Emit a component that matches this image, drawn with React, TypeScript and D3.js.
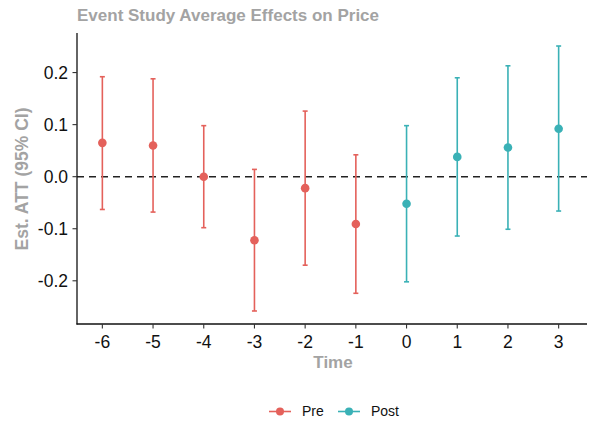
import React from 'react';
import * as d3 from 'd3';

// event-study estimates
const periods = [-6, -5, -4, -3, -2, -1, 0, 1, 2, 3];
const estimates = [0.065, 0.06, 0.0, -0.122, -0.022, -0.091, -0.052, 0.038, 0.056, 0.092];
const upperCI = [0.192, 0.188, 0.098, 0.014, 0.126, 0.042, 0.098, 0.19, 0.213, 0.251];
const lowerCI = [-0.063, -0.068, -0.098, -0.258, -0.17, -0.224, -0.202, -0.114, -0.101, -0.066];
const yTicks = [-0.2, -0.1, 0.0, 0.1, 0.2];
const groups = ['Pre', 'Post'];
const groupColors = ['#E4615B', '#3AB1B6'];

const width = 589;
const height = 427;
const font = "'Liberation Sans', Arial, Helvetica, sans-serif";
const titleGrey = '#a3a3a3';

const App = () => {
    const x = d3.scaleLinear().domain([-6.5, 3.5]).range([77, 584]);
    const y = d3.scaleLinear().domain([-0.283, 0.276]).range([324, 33]);
    const color = d3.scaleOrdinal<string, string>().domain(groups).range(groupColors);

    const rows = periods.map((p, i) => ({
        period: p,
        est: estimates[i],
        hi: upperCI[i],
        lo: lowerCI[i],
        group: p < 0 ? 'Pre' : 'Post',
    }));

    // plain hyphen for negatives, like the original
    const fmt = (v: number) => (Math.abs(v) < 1e-9 ? '0.0' : v.toFixed(1));

    return (
        <svg width={width} height={height} style={{ position: 'absolute', left: 0, top: 0, background: '#fff' }}
            fontFamily={font}>
            {/* title */}
            <text x={77} y={21} fontSize={17} fontWeight="bold" fill={titleGrey}>
                Event Study Average Effects on Price
            </text>

            {/* zero reference line */}
            <line x1={x(-6.5)} x2={587} y1={y(0)} y2={y(0)} stroke="#222" strokeWidth={1.6} strokeDasharray="7,5" />

            {/* error bars and points */}
            {rows.map(d => {
                const c = color(d.group);
                const cx = x(d.period);
                return (
                    <g key={d.period}>
                        <line x1={cx} x2={cx} y1={y(d.hi)} y2={y(d.lo)} stroke={c} strokeWidth={1.6} />
                        <line x1={cx - 2.5} x2={cx + 2.5} y1={y(d.hi)} y2={y(d.hi)} stroke={c} strokeWidth={1.6} />
                        <line x1={cx - 2.5} x2={cx + 2.5} y1={y(d.lo)} y2={y(d.lo)} stroke={c} strokeWidth={1.6} />
                        <circle cx={cx} cy={y(d.est)} r={4.3} fill={c} />
                    </g>
                );
            })}

            {/* y axis */}
            <line x1={77} x2={77} y1={33} y2={324.5} stroke="#111" strokeWidth={1.3} />
            {yTicks.map(t => (
                <g key={t} transform={`translate(0,${y(t)})`}>
                    <line x1={72.5} x2={77} stroke="#333" strokeWidth={1.1} />
                    <text x={68} dy="0.35em" textAnchor="end" fontSize={17.5} fill="#111">{fmt(t)}</text>
                </g>
            ))}

            {/* x axis */}
            <line x1={76.5} x2={587} y1={324} y2={324} stroke="#111" strokeWidth={1.3} />
            {periods.map(p => (
                <g key={p} transform={`translate(${x(p)},0)`}>
                    <line y1={324} y2={328.5} stroke="#333" strokeWidth={1.1} />
                    <text y={348} textAnchor="middle" fontSize={17.5} fill="#111">{String(p)}</text>
                </g>
            ))}

            {/* axis titles */}
            <text x={333} y={368} textAnchor="middle" fontSize={17} fontWeight="bold" fill={titleGrey}>Time</text>
            <text transform="translate(28,179) rotate(-90)" textAnchor="middle" fontSize={17.5} fontWeight="bold"
                fill={titleGrey}>Est. ATT (95% CI)</text>

            {/* legend */}
            {groups.map((g, i) => {
                const lx = i === 0 ? 269 : 338;
                return (
                    <g key={g} transform={`translate(${lx},411.5)`}>
                        <line x1={0} x2={22} stroke={color(g)} strokeWidth={1.6} />
                        <circle cx={11} r={4} fill={color(g)} />
                        <text x={33} dy="0.35em" fontSize={14} fill="#111">{g}</text>
                    </g>
                );
            })}
        </svg>
    );
};

export default App;
